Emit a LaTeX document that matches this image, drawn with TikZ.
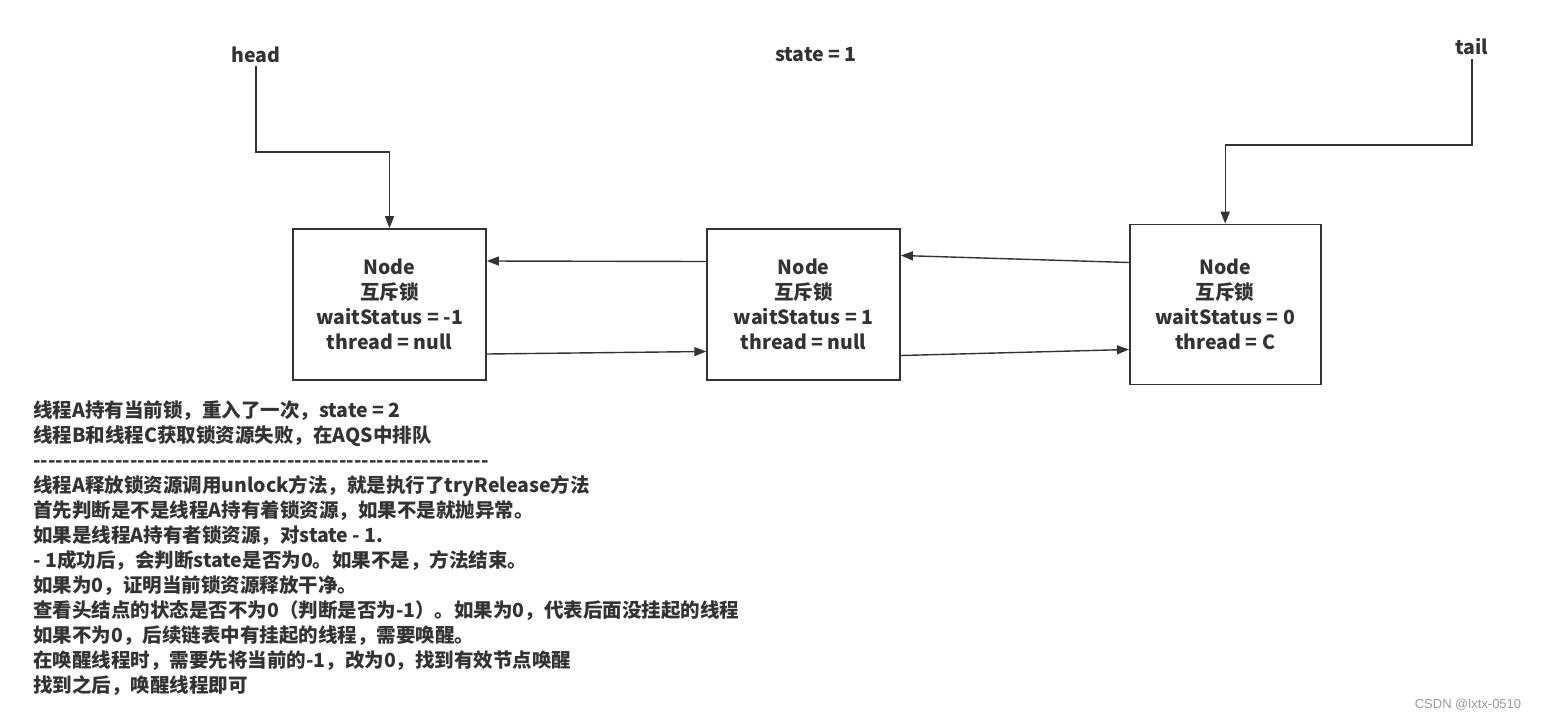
\documentclass[tikz,border=0pt]{standalone}
\usepackage{fontspec}
\setmainfont{Noto Sans CJK SC}[Ligatures=TeXOff]
\newfontfamily\markfont{Liberation Sans}
\usetikzlibrary{positioning,arrows.meta}
\definecolor{ink}{HTML}{333333}
\tikzset{
  qnode/.style={draw=ink, line width=1.6pt, minimum width=193pt, minimum height=151pt, align=center, text=ink, font=\fontsize{19.5}{25}\selectfont\bfseries},
  link/.style={draw=ink, line width=1.4pt, -{Triangle[length=12pt,width=9pt]}},
  lbl/.style={text=ink, font=\fontsize{19.5}{25}\selectfont\bfseries}
}
\begin{document}
\begin{tikzpicture}[x=1pt,y=1pt]
\useasboundingbox (0,0) rectangle (1543,-721);
\node[qnode] (N1) at (389.5,-304.5) {Node\\互斥锁\\waitStatus = -1\\thread = null};
\node[qnode, right=219.5pt of N1] (N2) {Node\\互斥锁\\waitStatus = 1\\thread = null};
\node[qnode, minimum width=191pt, minimum height=160pt, right=228pt of N2] (N3) {Node\\互斥锁\\waitStatus = 0\\thread = C};
\node[lbl] (head) at (256,-55) {head};
\node[lbl] (state) at (816,-55) {state = 1};
\node[lbl] (tail) at (1472,-47) {tail};
\coordinate (hbend) at (256,-152);
\coordinate (tbend) at (1472,-145);
% pointers
\draw[link] (head.south) -- (hbend) -| (N1.north);
\draw[link] (tail.south) -- (tbend) -| (N3.north);
% prev / next
\draw[link] ([yshift=43pt]N2.west) -- ([yshift=43.5pt]N1.east);
\draw[link] ([yshift=-49.5pt]N1.east) -- ([yshift=-47pt]N2.west);
\draw[link] ([yshift=42pt]N3.west) -- ([yshift=49pt]N2.east);
\draw[link] ([yshift=-51pt]N2.east) -- ([yshift=-45pt]N3.west);
% notes
\node[lbl, anchor=north west, align=left, inner sep=0pt] (notes) at (33,-401) {%
线程A持有当前锁，重入了一次，state = 2\\
线程B和线程C获取锁资源失败，在AQS中排队\\
-------------------------------------------------------------\\
线程A释放锁资源调用unlock方法，就是执行了tryRelease方法\\
首先判断是不是线程A持有着锁资源，如果不是就抛异常。\\
如果是线程A持有者锁资源，对state - 1.\\
- 1成功后，会判断state是否为0。如果不是，方法结束。\\
如果为0，证明当前锁资源释放干净。\\
查看头结点的状态是否不为0（判断是否为-1）。如果为0，代表后面没挂起的线程\\
如果不为0，后续链表中有挂起的线程，需要唤醒。\\
在唤醒线程时，需要先将当前的-1，改为0，找到有效节点唤醒\\
找到之后，唤醒线程即可};
\node[text=black!40, font=\markfont\fontsize{13}{15}\selectfont] (mark) at (1468,-705) {CSDN @lxtx-0510};
\end{tikzpicture}
\end{document}
